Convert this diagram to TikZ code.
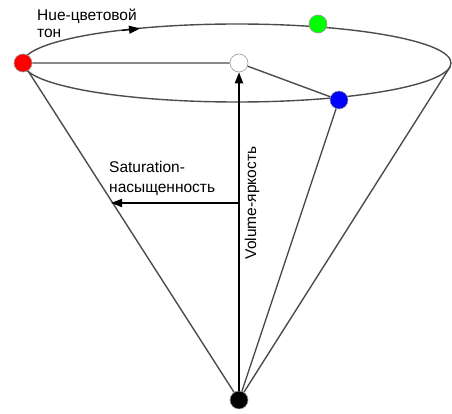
\documentclass[tikz,border=0pt]{standalone}
\usepackage{fontspec}
\setmainfont{Liberation Sans}
\usetikzlibrary{arrows.meta}
\begin{document}
\begin{tikzpicture}[x=1pt,y=-1pt,
  dot/.style={circle,draw=gray!80,line width=0.6pt,minimum size=18pt,inner sep=0pt},
  cone/.style={draw=black!70,line width=1.4pt},
  axis/.style={draw=black,line width=1.8pt,-{Triangle[length=11pt,width=8pt]}},
  lbl/.style={font=\fontsize{15.5}{17}\selectfont,inner sep=0pt}]
\useasboundingbox (0,0) rectangle (452,414);
\coordinate (rt) at (450,67);
\coordinate (mid) at (239,203);
\coordinate (sat) at (111,203);
\draw[cone] (237,63) ellipse [x radius=214, y radius=39];
\draw[black,line width=1.2pt,-{Triangle[length=11pt,width=8pt]}] (122,30.5) -- (140,28.5);
\node[dot,fill=black] (k) at (239,400) {};
\node[dot,fill=red] (r) at (23,63) {};
\node[dot,fill=white] (w) at (239,63) {};
\node[dot,fill=green] (g) at (318,24) {};
\node[dot,fill=blue] (b) at (339,100) {};
\draw[cone] (r) -- (w) -- (b);
\draw[cone] (r) -- (k);
\draw[cone] (b) -- (k);
\draw[cone] (rt) -- (k);
\draw[axis] (k) -- (w);
\draw[axis] (mid) -- (sat);
\node[lbl,anchor=base west] (h1) at (37,21) {Hue-цветовой};
\node[lbl,anchor=base west] (h2) at (37,38) {тон};
\node[lbl,anchor=base west] (s1) at (109,173) {Saturation-};
\node[lbl,anchor=base west] (s2) at (109,193) {насыщенность};
\node[lbl,anchor=base,rotate=90] (v) at (256,203) {Volume-яркость};
\end{tikzpicture}
\end{document}
